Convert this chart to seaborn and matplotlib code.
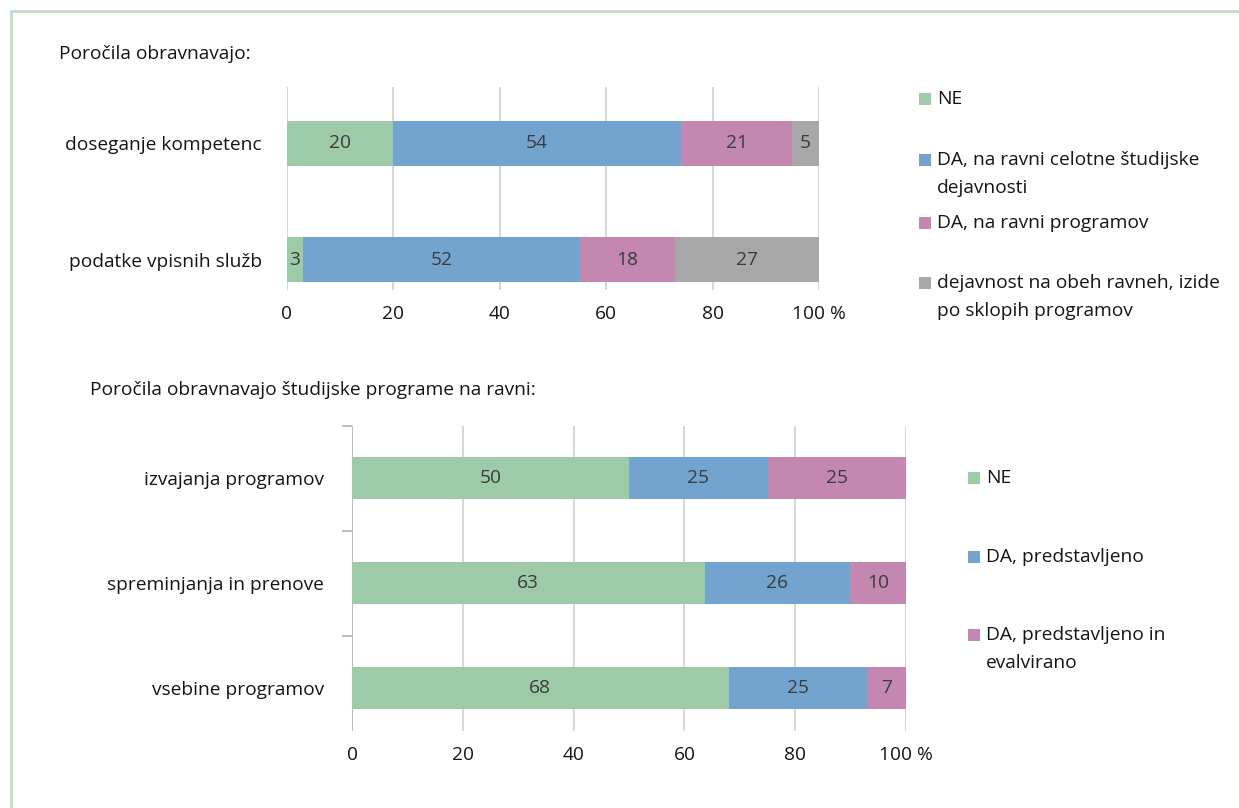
import matplotlib
matplotlib.use("Agg")
import matplotlib.pyplot as plt
import matplotlib.patches as mpatches
import matplotlib.lines as mlines
import numpy as np
import pandas as pd
import seaborn as sns

# ---------------- data ----------------
title_top = "Poročila obravnavajo:"
cats_top = ["doseganje kompetenc", "podatke vpisnih služb"]
legend_top = ["NE", "DA, na ravni celotne študijske\ndejavnosti",
              "DA, na ravni programov", "dejavnost na obeh ravneh, izide\npo sklopih programov"]
top_ne = [20, 3]
top_da_celotne = [54, 52]
top_da_programov = [21, 18]
top_obeh = [5, 27]

title_bot = "Poročila obravnavajo študijske programe na ravni:"
cats_bot = ["izvajanja programov", "spreminjanja in prenove", "vsebine programov"]
legend_bot = ["NE", "DA, predstavljeno", "DA, predstavljeno in\nevalvirano"]
bot_ne = [50, 63, 68]
bot_da_pred = [25, 26, 25]
bot_da_eval = [25, 10, 7]

xticks = [0, 20, 40, 60, 80, 100]
xticklabels = ["0", "20", "40", "60", "80", "100 %"]

colors_top = ["#9ECBA7", "#72A4CF", "#C487B1", "#A8A8A8"]
colors_bot = ["#9ECBA7", "#72A4CF", "#C487B1"]

# ---------------- style ----------------
sns.set_theme(style="white")
plt.rcParams["font.family"] = ["Open Sans", "DejaVu Sans"]

W, H = 1239, 808
fig = plt.figure(figsize=(W / 100, H / 100), dpi=100)

TXT = "#151515"
VAL = "#3a3a3a"
GRID = "#D6D6D6"
FS = 13.8


def px(x, y):
    return x / W, 1 - y / H


def stacked(ax, cats, series_vals, colors, width):
    vals = np.array(series_vals, dtype=float)
    # 100 % stacked: each row is scaled to its own total
    pct = vals / vals.sum(axis=0) * 100
    cum = np.cumsum(pct, axis=0)
    for i in range(len(series_vals) - 1, -1, -1):
        df = pd.DataFrame({"cat": cats, "val": cum[i]})
        sns.barplot(data=df, y="cat", x="val", orient="h", color=colors[i],
                    width=width, saturation=1, ax=ax, order=cats, linewidth=0, zorder=3)
    starts = cum - pct
    for i in range(vals.shape[0]):
        for j in range(vals.shape[1]):
            ax.text(starts[i, j] + pct[i, j] / 2, j, f"{int(vals[i, j])}",
                    ha="center", va="center", fontsize=FS, color=VAL, zorder=5)


def style_axis(ax, ylim, pad):
    ax.set_xlim(0, 100)
    ax.set_ylim(*ylim)
    ax.set_xticks(xticks)
    ax.set_xticklabels(xticklabels, fontsize=FS, color=TXT)
    ax.tick_params(axis="x", length=0, pad=11)
    ax.tick_params(axis="y", which="major", length=0, pad=pad, labelsize=FS, labelcolor=TXT)
    for s in ax.spines.values():
        s.set_visible(False)
    ax.grid(False)
    for t in xticks:
        ax.axvline(t, color=GRID, lw=1.4, zorder=1)
    ax.set_xlabel("")
    ax.set_ylabel("")


# ---------------- top chart ----------------
l, b = px(287, 290)
r, t = px(819, 87)
ax1 = fig.add_axes([l, b, r - l, t - b])
stacked(ax1, cats_top, [top_ne, top_da_celotne, top_da_programov, top_obeh], colors_top, 0.386)
style_axis(ax1, (1.258, -0.485), 18)

# ---------------- bottom chart ----------------
l, b = px(352, 731)
r, t = px(906, 426)
ax2 = fig.add_axes([l, b, r - l, t - b])
stacked(ax2, cats_bot, [bot_ne, bot_da_pred, bot_da_eval], colors_bot, 0.40)
style_axis(ax2, (2.41, -0.5), 20)
ax2.axvline(0, color="#BDBDBD", lw=1.4, zorder=2)
ax2.set_yticks([-0.5, 0.5, 1.5], minor=True)
ax2.tick_params(axis="y", which="minor", length=7, width=1.4, color="#BDBDBD", left=True)

# ---------------- titles ----------------
fig.text(*px(59, 54), title_top, fontsize=FS, color=TXT, ha="left", va="center")
fig.text(*px(90, 390), title_bot, fontsize=FS, color=TXT, ha="left", va="center")

# ---------------- legends ----------------
def legend(labels, colors, sq_x, txt_x, ys):
    for lab, c, y in zip(labels, colors, ys):
        x0, y0 = px(sq_x, y + 6)
        fig.patches.append(mpatches.Rectangle((x0, y0), 12 / W, 12 / H, transform=fig.transFigure,
                                              facecolor=c, edgecolor="none"))
        lines = lab.split("\n")
        for k, line in enumerate(lines):
            fig.text(*px(txt_x, y + 28 * k), line, fontsize=FS, color=TXT, ha="left", va="center")


legend(legend_top, colors_top, 919, 937, [99, 160, 223, 283])
legend(legend_bot, colors_bot, 968, 986, [478, 557, 635])

# ---------------- frame ----------------
fig.add_artist(mlines.Line2D([11 / W, 1], [1 - 11 / H, 1 - 11 / H], transform=fig.transFigure,
                             color="#C2DCC2", lw=2))
fig.add_artist(mlines.Line2D([11 / W, 11 / W], [0, 1 - 11 / H], transform=fig.transFigure,
                             color="#C2DCC2", lw=2))

fig.savefig("out.png", dpi=100, facecolor="white")
